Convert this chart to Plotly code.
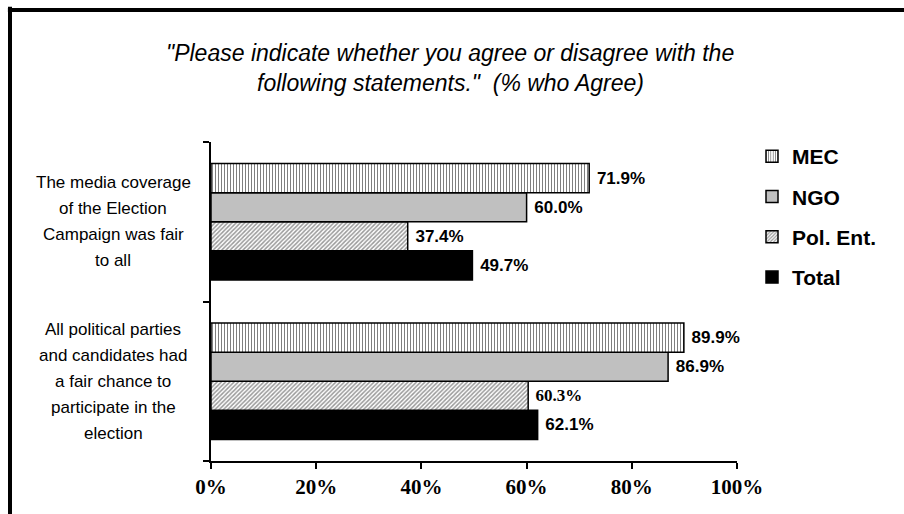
import plotly.graph_objects as go

# Survey statements (top to bottom) and % who agree per respondent group
statements = [
    ["The media coverage", "of the Election", "Campaign was fair", "to all"],
    ["All political parties", "and candidates had", "a fair chance to",
     "participate in the", "election"],
]
categories = ["media", "parties"]
mec = [71.9, 89.9]
ngo = [60.0, 86.9]
pol_ent = [37.4, 60.3]
total = [49.7, 62.1]
x_ticks = [0, 20, 40, 60, 80, 100]
x_tick_labels = [f"{v}%" for v in x_ticks]

SANS = "Liberation Sans"
SERIF = "Liberation Serif"

fig = go.Figure()

# Traces are added bottom-to-top inside each group so MEC sits on top
series = [
    ("Total", total, dict(color="black"), [SANS, SANS]),
    ("Pol. Ent.", pol_ent,
     dict(color="white",
          pattern=dict(shape="/", fgcolor="#333333", bgcolor="white",
                       size=3, solidity=0.5)),
     [SANS, SERIF]),
    ("NGO", ngo, dict(color="#C0C0C0"), [SANS, SANS]),
    ("MEC", mec,
     dict(color="white",
          pattern=dict(shape="|", fgcolor="black", bgcolor="white",
                       size=3, solidity=0.35)),
     [SANS, SANS]),
]

for i, (name, vals, marker, fams) in enumerate(series):
    marker = dict(marker)
    marker["line"] = dict(color="black", width=1.5)
    fig.add_trace(go.Bar(
        name=name,
        y=categories,
        x=vals,
        orientation="h",
        marker=marker,
        text=[f"{v:.1f}%" for v in vals],
        texttemplate=" %{text}",
        textposition="outside",
        textfont=dict(family=fams, size=17, color="black", weight="bold"),
        cliponaxis=False,
        legendgroup=name,
        legendrank=len(series) - i,
    ))

annotations = []
# Title lines
for line, ypx in [('"Please indicate whether you agree or disagree with the', 53),
                  ('following statements."  (% who Agree)', 83)]:
    annotations.append(dict(
        text=line, xref="paper", yref="paper",
        x=(450 - 211) / 526, y=(461 - ypx) / 319,
        xanchor="center", yanchor="middle", showarrow=False,
        font=dict(family=SANS, size=23, color="black", style="italic"),
    ))

# Centered multi-line statement labels, one per group
for cat_lines, yc in zip(statements, [0.75, 0.25]):
    n = len(cat_lines)
    for j, line in enumerate(cat_lines):
        annotations.append(dict(
            text=line, xref="paper", yref="paper",
            x=(113 - 211) / 526, y=yc,
            yshift=-(j - (n - 1) / 2) * 26,
            xanchor="center", yanchor="middle", showarrow=False,
            font=dict(family=SANS, size=17, color="black"),
        ))

# Outer frame (top and left edges)
x_left = (10 - 211) / 526
y_top = (461 - 10) / 319
shapes = [
    dict(type="line", xref="paper", yref="paper",
         x0=x_left, x1=x_left, y0=y_top + 0.01, y1=-0.5,
         line=dict(color="black", width=4)),
    dict(type="line", xref="paper", yref="paper",
         x0=x_left - 0.004, x1=1.5, y0=y_top, y1=y_top,
         line=dict(color="black", width=4)),
]

fig.update_layout(
    width=904, height=514,
    margin=dict(l=211, r=167, t=142, b=53),
    paper_bgcolor="white", plot_bgcolor="white",
    barmode="group", bargap=0.27, bargroupgap=0,
    showlegend=True,
    legend=dict(
        x=(752 - 211) / 526, xanchor="left",
        y=(461 - 136) / 319, yanchor="top",
        traceorder="grouped", tracegroupgap=10,
        font=dict(family=SANS, size=21, color="black", weight="bold"),
        bgcolor="rgba(0,0,0,0)",
    ),
    annotations=annotations,
    shapes=shapes,
)

fig.update_xaxes(
    range=[0, 100], tickmode="array",
    tickvals=x_ticks, ticktext=x_tick_labels,
    showgrid=False, zeroline=False,
    showline=True, linecolor="black", linewidth=1.5,
    ticks="outside", ticklen=6, tickwidth=1.5, tickcolor="black",
    tickfont=dict(family=SERIF, size=21, color="black", weight="bold"),
)
fig.update_yaxes(
    type="category", categoryorder="array",
    categoryarray=categories[::-1],
    showticklabels=False, showgrid=False, zeroline=False,
    showline=True, linecolor="black", linewidth=1.5,
    ticks="outside", ticklen=6, tickwidth=1.5, tickcolor="black",
    tickson="boundaries",
)

fig.write_html("out.html")
